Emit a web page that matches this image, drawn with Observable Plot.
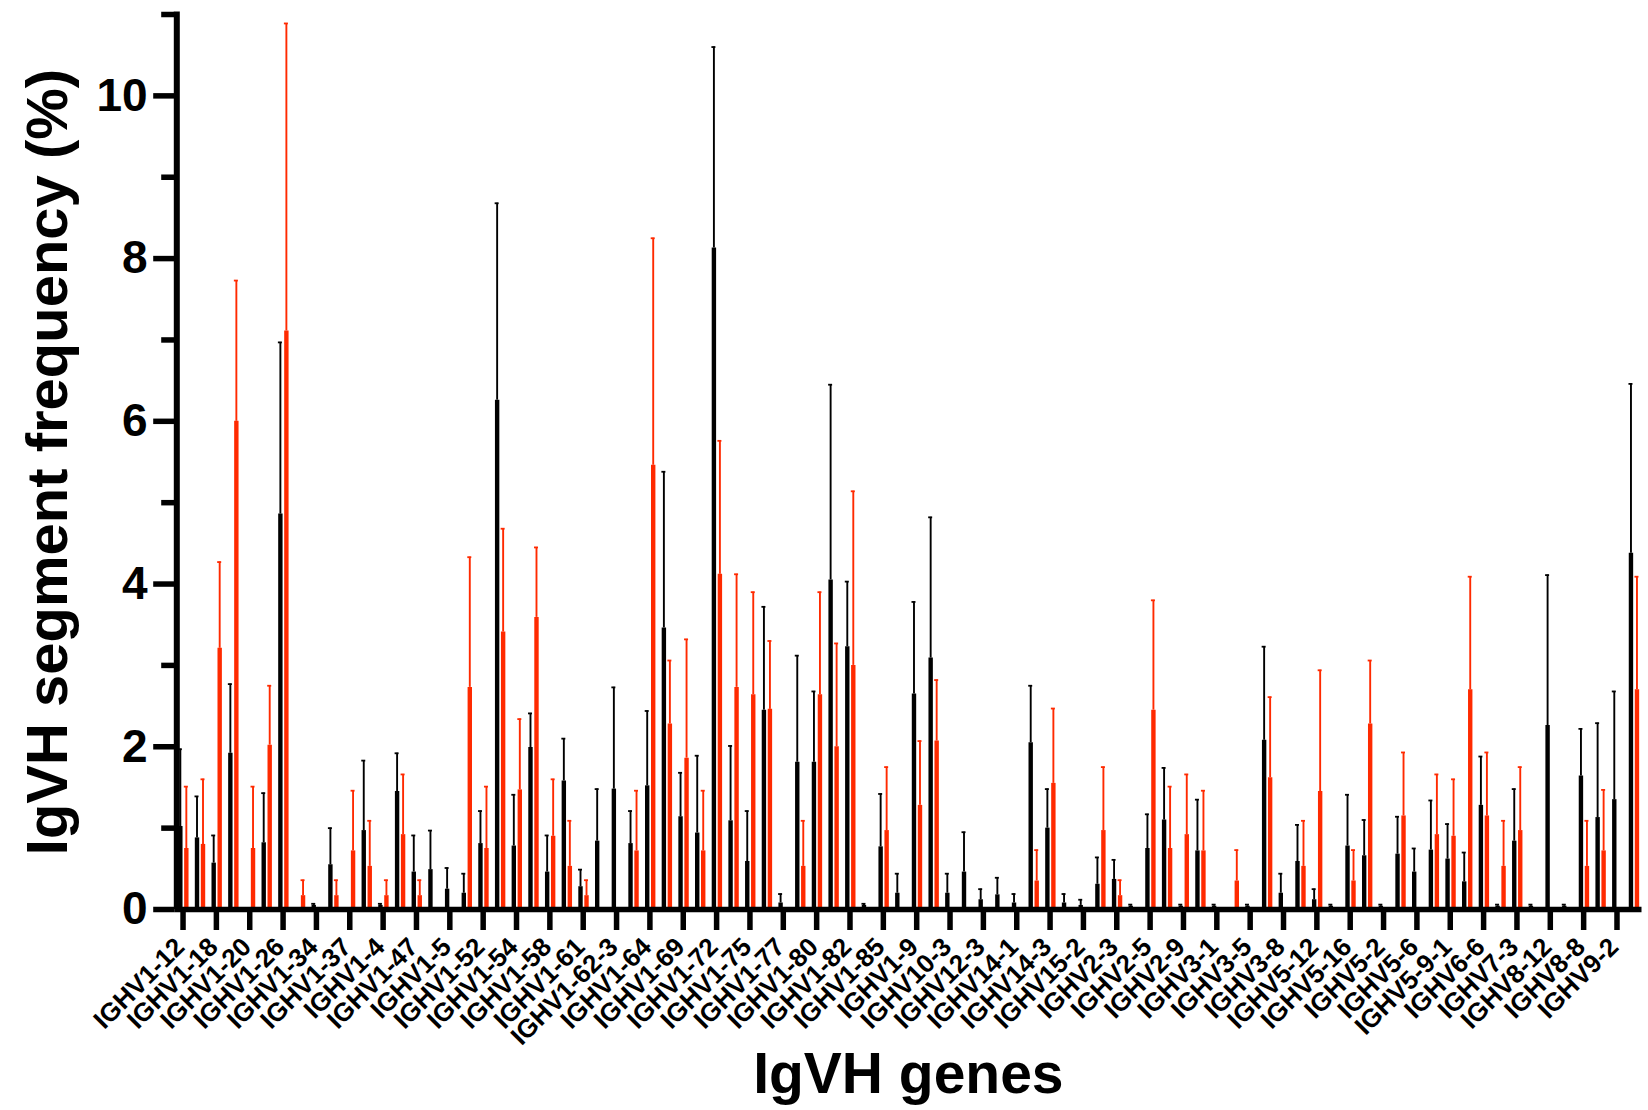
<!DOCTYPE html>
<html>
<head>
<meta charset="utf-8">
<script src="https://cdn.jsdelivr.net/npm/d3@7"></script>
<script src="https://cdn.jsdelivr.net/npm/@observablehq/plot@0.6"></script>
<style>
  html, body { margin: 0; padding: 0; background: #fff; overflow: hidden; }
</style>
</head>
<body>
<div id="chart"></div>
<script>
// ---- Data ----
const genes = ["IGHV1-12","IGHV1-15","IGHV1-18","IGHV1-19","IGHV1-20","IGHV1-22","IGHV1-26","IGHV1-31","IGHV1-34","IGHV1-36",
  "IGHV1-37","IGHV1-39","IGHV1-4","IGHV1-42","IGHV1-47","IGHV1-49","IGHV1-5","IGHV1-50","IGHV1-52","IGHV1-53",
  "IGHV1-54","IGHV1-55","IGHV1-58","IGHV1-59","IGHV1-61","IGHV1-62-2","IGHV1-62-3","IGHV1-63","IGHV1-64","IGHV1-66",
  "IGHV1-69","IGHV1-7","IGHV1-72","IGHV1-74","IGHV1-75","IGHV1-76","IGHV1-77","IGHV1-78","IGHV1-80","IGHV1-81",
  "IGHV1-82","IGHV1-84","IGHV1-85","IGHV1-87","IGHV1-9","IGHV10-1","IGHV10-3","IGHV11-2","IGHV12-3","IGHV13-2",
  "IGHV14-1","IGHV14-2","IGHV14-3","IGHV14-4","IGHV15-2","IGHV16-1","IGHV2-3","IGHV2-4","IGHV2-5","IGHV2-6",
  "IGHV2-9","IGHV2-9-1","IGHV3-1","IGHV3-3","IGHV3-5","IGHV3-6","IGHV3-8","IGHV4-1","IGHV5-12","IGHV5-15",
  "IGHV5-16","IGHV5-17","IGHV5-2","IGHV5-4","IGHV5-6","IGHV5-9","IGHV5-9-1","IGHV6-3","IGHV6-6","IGHV7-1",
  "IGHV7-3","IGHV7-4","IGHV8-12","IGHV8-5","IGHV8-8","IGHV9-1","IGHV9-2","IGHV9-3"];

const tickLabels = ["IGHV1-12","IGHV1-18","IGHV1-20","IGHV1-26","IGHV1-34","IGHV1-37","IGHV1-4","IGHV1-47","IGHV1-5","IGHV1-52",
  "IGHV1-54","IGHV1-58","IGHV1-61","IGHV1-62-3","IGHV1-64","IGHV1-69","IGHV1-72","IGHV1-75","IGHV1-77","IGHV1-80",
  "IGHV1-82","IGHV1-85","IGHV1-9","IGHV10-3","IGHV12-3","IGHV14-1","IGHV14-3","IGHV15-2","IGHV2-3","IGHV2-5",
  "IGHV2-9","IGHV3-1","IGHV3-5","IGHV3-8","IGHV5-12","IGHV5-16","IGHV5-2","IGHV5-6","IGHV5-9-1","IGHV6-6",
  "IGHV7-3","IGHV8-12","IGHV8-8","IGHV9-2"];

// black series: mean and top of error bar (%)
const blackMean = [1.02,0.88,0.57,1.92,null,0.82,4.86,null,0.05,0.55,
  null,0.97,0.05,1.45,0.46,0.49,0.25,0.20,0.81,6.26,
  0.78,1.99,0.46,1.58,0.28,0.84,1.48,0.81,1.52,3.46,
  1.14,0.94,8.13,1.09,0.59,2.45,0.08,1.81,1.81,4.05,
  3.23,0.05,0.77,0.20,2.65,3.09,0.20,0.46,0.12,0.18,
  0.08,2.05,1.00,0.08,0.05,0.31,0.37,0.04,0.75,1.10,
  0.04,0.72,0.04,null,0.04,2.08,0.20,0.59,0.12,0.04,
  0.78,0.66,0.04,0.68,0.46,0.73,0.62,0.34,1.28,0.04,
  0.84,0.04,2.26,0.04,1.64,1.13,1.35,4.38];
const blackUpper = [1.97,1.39,0.91,2.77,null,1.43,6.97,null,0.07,1.00,
  null,1.83,0.07,1.92,0.91,0.97,0.51,0.44,1.21,8.68,
  1.41,2.41,0.91,2.10,0.49,1.48,2.73,1.21,2.44,5.38,
  1.68,1.89,10.60,2.01,1.21,3.72,0.19,3.12,2.68,6.45,
  4.03,0.07,1.42,0.44,3.78,4.82,0.44,0.95,0.25,0.39,
  0.19,2.75,1.48,0.19,0.12,0.64,0.61,0.06,1.17,1.74,
  0.06,1.35,0.06,null,0.06,3.23,0.44,1.04,0.25,0.06,
  1.41,1.10,0.06,1.14,0.75,1.34,1.05,0.70,1.88,0.06,
  1.48,0.06,4.11,0.06,2.22,2.29,2.68,6.46];

// red series: mean and top of error bar (%)
const redMean = [0.75,0.80,3.21,6.00,0.75,2.02,7.11,0.17,null,0.17,
  0.72,0.53,0.17,0.92,0.17,null,null,2.73,0.75,3.41,
  1.47,3.59,0.90,0.53,0.17,null,null,0.72,5.46,2.28,
  1.86,0.72,4.12,2.73,2.64,2.46,null,0.53,2.64,2.00,
  3.00,null,0.97,null,1.28,2.07,null,null,null,null,
  null,0.35,1.55,null,null,0.97,0.17,null,2.45,0.75,
  0.92,0.72,null,0.35,null,1.62,null,0.53,1.45,null,
  0.35,2.28,null,1.15,null,0.92,0.90,2.70,1.15,0.53,
  0.97,null,null,null,0.53,0.72,null,2.70];
const redUpper = [1.51,1.60,4.27,7.73,1.51,2.75,10.89,0.36,null,0.36,
  1.46,1.09,0.36,1.66,0.36,null,null,4.33,1.51,4.68,
  2.34,4.45,1.60,1.09,0.36,null,null,1.46,8.25,3.06,
  3.32,1.46,5.76,4.12,3.90,3.30,null,1.09,3.90,3.27,
  5.14,null,1.75,null,2.07,2.82,null,null,null,null,
  null,0.73,2.47,null,null,1.75,0.36,null,3.80,1.51,
  1.66,1.46,null,0.73,null,2.61,null,1.09,2.94,null,
  0.73,3.06,null,1.93,null,1.66,1.60,4.09,1.93,1.09,
  1.75,null,null,null,1.09,1.47,null,4.09];

const yMajorTicks = [0, 2, 4, 6, 8, 10];
const yMinorTicks = [1, 3, 5, 7, 9, 11];

// ---- Build table ----
const rows = genes.map((gene, i) => ({gene, bm: blackMean[i], bu: blackUpper[i], rm: redMean[i], ru: redUpper[i]}));

const W = 1648, H = 1110;
const ML = 174.2, MR = 6.5, MT = 14, MB = 201;
const step = (W - ML - MR) / genes.length;
const RED = "#ff2a00";
const BW = 4.4, EW = 1.9, CAP = 4;
const dxB = -2.7, dxR = 3.3;
const capB = {insetLeft: step / 2 + dxB - CAP / 2, insetRight: step - (step / 2 + dxB + CAP / 2)};
const capR = {insetLeft: step / 2 + dxR - CAP / 2, insetRight: step - (step / 2 + dxR + CAP / 2)};

const chart = Plot.plot({
  width: W, height: H,
  marginLeft: ML, marginRight: MR, marginTop: MT, marginBottom: MB,
  style: {fontFamily: "'Liberation Sans', Arial, Helvetica, sans-serif", fontWeight: "bold", background: "#fff", color: "#000", overflow: "visible"},
  x: {type: "band", domain: genes, padding: 0, label: null},
  y: {domain: [0, 11], label: null},
  marks: [
    // bars
    Plot.ruleX(rows.filter(d => d.bm != null), {x: "gene", y1: 0, y2: "bm", stroke: "#000", strokeWidth: BW, dx: dxB}),
    Plot.ruleX(rows.filter(d => d.rm != null), {x: "gene", y1: 0, y2: "rm", stroke: RED, strokeWidth: BW, dx: dxR}),
    // error bars
    Plot.ruleX(rows.filter(d => d.bu != null), {x: "gene", y1: "bm", y2: "bu", stroke: "#000", strokeWidth: EW, dx: dxB}),
    Plot.ruleX(rows.filter(d => d.ru != null), {x: "gene", y1: "rm", y2: "ru", stroke: RED, strokeWidth: EW, dx: dxR}),
    Plot.tickY(rows.filter(d => d.bu != null), {x: "gene", y: "bu", stroke: "#000", strokeWidth: 1.8, ...capB}),
    Plot.tickY(rows.filter(d => d.ru != null), {x: "gene", y: "ru", stroke: RED, strokeWidth: 1.8, ...capR}),
    // axis lines
    Plot.ruleY([0], {strokeWidth: 5.5}),
    Plot.ruleX([genes[0]], {y1: 0, y2: 11.03, strokeWidth: 6, dx: 176.3 - (ML + step / 2)}),
    // ticks
    Plot.axisX({ticks: tickLabels, tickSize: 21, strokeWidth: 5.5, tickFormat: () => "", label: null}),
    Plot.axisY({ticks: yMajorTicks, tickSize: 21, tickPadding: 6, strokeWidth: 5.5, fontSize: 46, label: null}),
    Plot.axisY({ticks: yMinorTicks, tickSize: 13, strokeWidth: 5.5, tickFormat: () => "", label: null}),
    // x tick labels
    Plot.text(tickLabels, {x: d => d, frameAnchor: "bottom", dx: 3, dy: 39, rotate: -45, textAnchor: "end", lineAnchor: "bottom", fontSize: 26}),
    // titles
    Plot.text(["IgVH segment frequency (%)"], {frameAnchor: "left", dx: 66 - ML, rotate: -90, textAnchor: "middle", lineAnchor: "bottom", fontSize: 58}),
    Plot.text(["IgVH genes"], {frameAnchor: "bottom", dy: 183, lineAnchor: "bottom", fontSize: 57})
  ]
});
document.getElementById("chart").appendChild(chart);
</script>
</body>
</html>
